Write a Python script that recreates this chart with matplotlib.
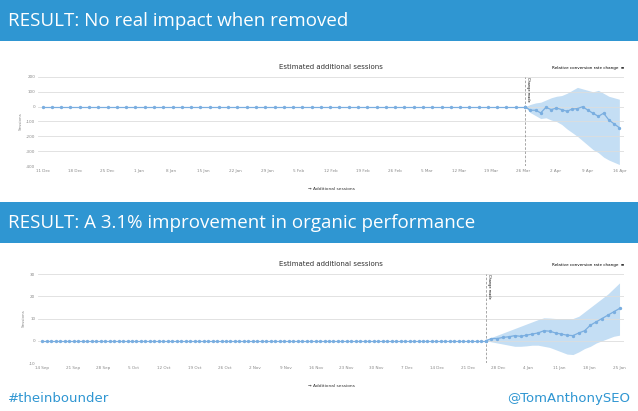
import matplotlib.pyplot as plt
import numpy as np

W, H = 638, 411
BLUE = '#2f96d2'
LINE = '#7aaee0'
BAND = '#c4def4'

# top chart: "no real impact when removed"
top_pre_n = 53
top_post = [0, -24, -24, -42, -4, -20, -9, -20, -31, -16, -13, 0, -24, -45, -65, -44, -90, -116, -142]
top_hi = [0, 15, 25, 30, 45, 60, 70, 75, 90, 110, 130, 120, 110, 100, 110, 90, 70, 60, 50]
top_lo = [0, -40, -60, -80, -75, -90, -100, -120, -150, -175, -200, -230, -260, -290, -310, -340, -360, -375, -390]
top_ticks = [200, 100, 0, -100, -200, -300, -400]
top_xlabels = ['11 Dec', '18 Dec', '25 Dec', '1 Jan', '8 Jan', '15 Jan', '22 Jan', '29 Jan', '5 Feb', '12 Feb',
               '19 Feb', '26 Feb', '5 Mar', '12 Mar', '19 Mar', '26 Mar', '2 Apr', '9 Apr', '16 Apr']

# bottom chart: "3.1% improvement"
bot_pre_n = 100
bot_post = [0, 1, 1, 1.5, 1.8, 2.3, 2, 2.5, 3, 3.5, 4.5, 4.3, 3.5, 3, 2.5, 2.3, 3.5, 4.5, 7, 8.5, 10, 11.5, 13, 14.5]
bot_hi = [0, 1.5, 2.5, 3.5, 4.5, 5.5, 6.5, 7.5, 8.5, 9.5, 10.3, 10.2, 10, 10, 10, 10, 11, 13, 15, 17, 19, 21, 23.5, 26]
bot_lo = [0, -0.5, -1, -1.5, -2, -2.5, -2.5, -2.3, -2, -2, -2.5, -3, -4, -5, -6, -6.2, -5, -3.5, -2.5, -1, 0, 1, 2, 2.5]
bot_ticks = [30, 20, 10, 0, -10]
bot_xlabels = ['14 Sep', '21 Sep', '28 Sep', '5 Oct', '12 Oct', '19 Oct', '26 Oct', '2 Nov', '9 Nov', '16 Nov',
               '23 Nov', '30 Nov', '7 Dec', '14 Dec', '21 Dec', '28 Dec', '4 Jan', '11 Jan', '18 Jan', '25 Jan']

fig = plt.figure(figsize=(W / 100, H / 100), dpi=100)
fig.patch.set_facecolor('white')


def px(x0, y0, w, h):
    return [x0 / W, 1 - (y0 + h) / H, w / W, h / H]


def banner(y0, text):
    ax = fig.add_axes(px(0, y0, W, 41))
    ax.set_facecolor(BLUE)
    ax.set_xticks([]); ax.set_yticks([])
    for s in ax.spines.values():
        s.set_visible(False)
    ax.text(0.012, 0.5, text, color='white', fontsize=13.5, va='center', transform=ax.transAxes,
            family='Open Sans')


def chart(rect, pre_n, pre_step, post_step, post, hi, lo, ticks, xlabels):
    ax = fig.add_axes(px(*rect))
    pre_x = np.arange(pre_n) * pre_step
    x0 = pre_x[-1]
    post_x = x0 + np.arange(len(post)) * post_step
    ax.fill_between(post_x, lo, hi, color=BAND, lw=0, zorder=1)
    ax.plot(pre_x, np.zeros(pre_n), color=LINE, lw=0.9, marker='o', ms=1.4, zorder=3)
    ax.plot(post_x, post, color=LINE, lw=0.9, marker='o', ms=1.4, zorder=3)
    ax.axvline(x0, color='#999999', lw=0.6, ls=(0, (3, 2)))
    ax.text(x0 + 0.3, ticks[0], 'Change made', rotation=-90, fontsize=2.5, va='top', ha='left')
    ax.set_ylim(ticks[-1], ticks[0])
    ax.set_xlim(-1, post_x[-1] + 1)
    ax.set_yticks(ticks)
    ax.set_yticklabels([str(t) for t in ticks])
    ax.set_xticks(np.linspace(0, post_x[-1], len(xlabels)))
    ax.set_xticklabels(xlabels)
    ax.tick_params(labelsize=3, colors='#888888', length=0, pad=2)
    ax.grid(axis='y', color='#dddddd', lw=0.6)
    for s in ax.spines.values():
        s.set_visible(False)
    ax.set_ylabel('Sessions', fontsize=3, color='#888888', labelpad=2)
    ax.set_title('Estimated additional sessions', fontsize=5, color='#333333', pad=6)
    ax.text(1.0, 1.09, 'Relative conversion rate change  \u2261', fontsize=3, ha='right', transform=ax.transAxes)
    ax.text(0.5, -0.27, '\u2192 Additional sessions', fontsize=3.2, ha='center', color='#333333',
            transform=ax.transAxes)
    return ax


banner(0, 'RESULT: No real impact when removed')
chart((38, 77, 586, 89), top_pre_n, 2, 1.13, top_post, top_hi, top_lo, top_ticks, top_xlabels)
banner(202, 'RESULT: A 3.1% improvement in organic performance')
chart((38, 274, 586, 89), bot_pre_n, 1, 1.3, bot_post, bot_hi, bot_lo, bot_ticks, bot_xlabels)

fig.text(8 / W, 1 - 398 / H, '#theinbounder', color=BLUE, fontsize=9.5, va='center')
fig.text(630 / W, 1 - 398 / H, '@TomAnthonySEO', color=BLUE, fontsize=9.5, va='center', ha='right')

fig.savefig('out.png', dpi=100)
